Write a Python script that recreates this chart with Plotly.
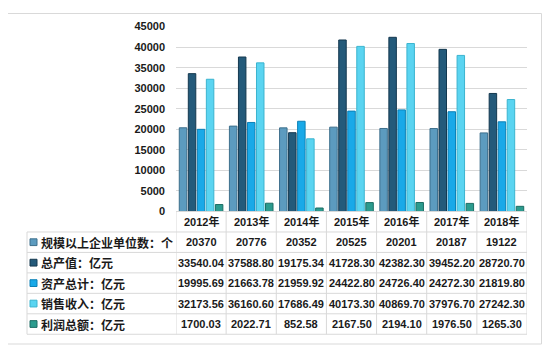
import plotly.graph_objects as go

# ---------------- data ----------------
years = ["2012年", "2013年", "2014年", "2015年", "2016年", "2017年", "2018年"]
series_names = ["规模以上企业单位数：个", "总产值：亿元", "资产总计：亿元", "销售收入：亿元", "利润总额：亿元"]
units = [20370, 20776, 20352, 20525, 20201, 20187, 19122]
output_value = [33540.04, 37588.80, 19175.34, 41728.30, 42382.30, 39452.20, 28720.70]
total_assets = [19995.69, 21663.78, 21959.92, 24422.80, 24726.40, 24272.30, 21819.80]
sales_revenue = [32173.56, 36160.60, 17686.49, 40173.30, 40869.70, 37976.70, 27242.30]
total_profit = [1700.03, 2022.71, 852.58, 2167.50, 2194.10, 1976.50, 1265.30]
y_ticks = [0, 5000, 10000, 15000, 20000, 25000, 30000, 35000, 40000, 45000]

series_values = [units, output_value, total_assets, sales_revenue, total_profit]
value_formats = ["{:.0f}", "{:.2f}", "{:.2f}", "{:.2f}", "{:.2f}"]

# ---------------- styles ----------------
fills = ["#5c9bbf", "#245a7a", "#19a9e8", "#5ad4f1", "#2b9b8e"]
edges = ["#3d6f8c", "#14384f", "#0c80b6", "#3bb4cf", "#1c6d64"]

OFF = 8  # page body margin
W, H = 550 - 2 * OFF, 358 - 2 * OFF
def fx(px):
    return (px - OFF) / W
def fy(py):
    return 1 - (py - OFF) / H

plot_left, plot_right = 176, 527
plot_top, plot_bottom = 21, 212.7
row_h = 21.2
table_left = 27
n_rows = len(series_names)
row_edges = [plot_bottom + i * row_h for i in range(n_rows + 2)]

CJK = "Liberation Sans, Noto Sans CJK SC, sans-serif"
txt_color = "#1a1a1a"
line_color = "#d9d9d9"

fig = go.Figure()
for name, vals, fc, ec in zip(series_names, series_values, fills, edges):
    fig.add_trace(go.Bar(
        x=years, y=vals, name=name,
        marker=dict(color=fc, line=dict(color=ec, width=1)),
    ))

shapes = []
annotations = []

# outer frame
shapes.append(dict(type="rect", xref="paper", yref="paper",
                   x0=fx(5.5), x1=fx(541.5), y0=fy(350), y1=fy(7.5),
                   line=dict(color=line_color, width=1), fillcolor="rgba(0,0,0,0)", layer="below"))

# table horizontal lines
for yy in row_edges[1:]:
    shapes.append(dict(type="line", xref="paper", yref="paper",
                       x0=fx(table_left), x1=fx(plot_right), y0=fy(yy), y1=fy(yy),
                       line=dict(color=line_color, width=1)))
# top line of header row (category axis line)
shapes.append(dict(type="line", xref="paper", yref="paper",
                   x0=fx(plot_left), x1=fx(plot_right), y0=fy(plot_bottom), y1=fy(plot_bottom),
                   line=dict(color=line_color, width=1)))
# left border of table
shapes.append(dict(type="line", xref="paper", yref="paper",
                   x0=fx(table_left), x1=fx(table_left), y0=fy(row_edges[1]), y1=fy(row_edges[-1]),
                   line=dict(color=line_color, width=1)))
# vertical separators between categories
for k in range(len(years) + 1):
    shapes.append(dict(type="line", xref="x", yref="paper",
                       x0=k - 0.5, x1=k - 0.5, y0=fy(plot_bottom), y1=fy(row_edges[-1]),
                       line=dict(color=line_color, width=1)))

# row labels with swatches and values
for r, (name, vals, fmt, fc, ec) in enumerate(zip(series_names, series_values, value_formats, fills, edges)):
    yc = (row_edges[r + 1] + row_edges[r + 2]) / 2
    shapes.append(dict(type="rect", xref="paper", yref="paper",
                       x0=fx(30), x1=fx(37), y0=fy(yc + 3.5), y1=fy(yc - 3.5),
                       fillcolor=fc, line=dict(color=ec, width=1)))
    annotations.append(dict(xref="paper", yref="paper", x=fx(39), y=fy(yc),
                            text="<b>" + name + "</b>", showarrow=False,
                            xanchor="left", yanchor="middle",
                            font=dict(family="Noto Sans CJK SC", size=12, color=txt_color)))
    for ci, v in enumerate(vals):
        annotations.append(dict(xref="x", yref="paper", x=ci, y=fy(yc),
                                text="<b>" + fmt.format(v) + "</b>", showarrow=False,
                                xanchor="center", yanchor="middle",
                                font=dict(family=CJK, size=11, color=txt_color)))

# year header labels
for ci, yr in enumerate(years):
    annotations.append(dict(xref="x", yref="paper", x=ci, y=fy((row_edges[0] + row_edges[1]) / 2),
                            text="<b>" + yr + "</b>", showarrow=False,
                            xanchor="center", yanchor="middle",
                            font=dict(family=CJK, size=11, color=txt_color)))

fig.update_layout(
    width=W, height=H,
    margin=dict(l=0, r=0, t=0, b=0),
    paper_bgcolor="white", plot_bgcolor="white",
    barmode="group", bargap=0.1, bargroupgap=0.17,
    showlegend=False,
    shapes=shapes, annotations=annotations,
    xaxis=dict(domain=[fx(plot_left), fx(plot_right)], showticklabels=False,
               showgrid=False, zeroline=False, showline=False, range=[-0.5, 6.5]),
    yaxis=dict(domain=[fy(plot_bottom), fy(plot_top)], range=[0, 45000],
               tickvals=y_ticks, ticktext=[str(t) for t in y_ticks],
               ticks="", showline=False, zeroline=False,
               gridcolor=line_color, gridwidth=1,
               tickfont=dict(family=CJK, size=11, color=txt_color, weight="bold"),
               ticklabelstandoff=10),
)

fig.write_html("out.html")
